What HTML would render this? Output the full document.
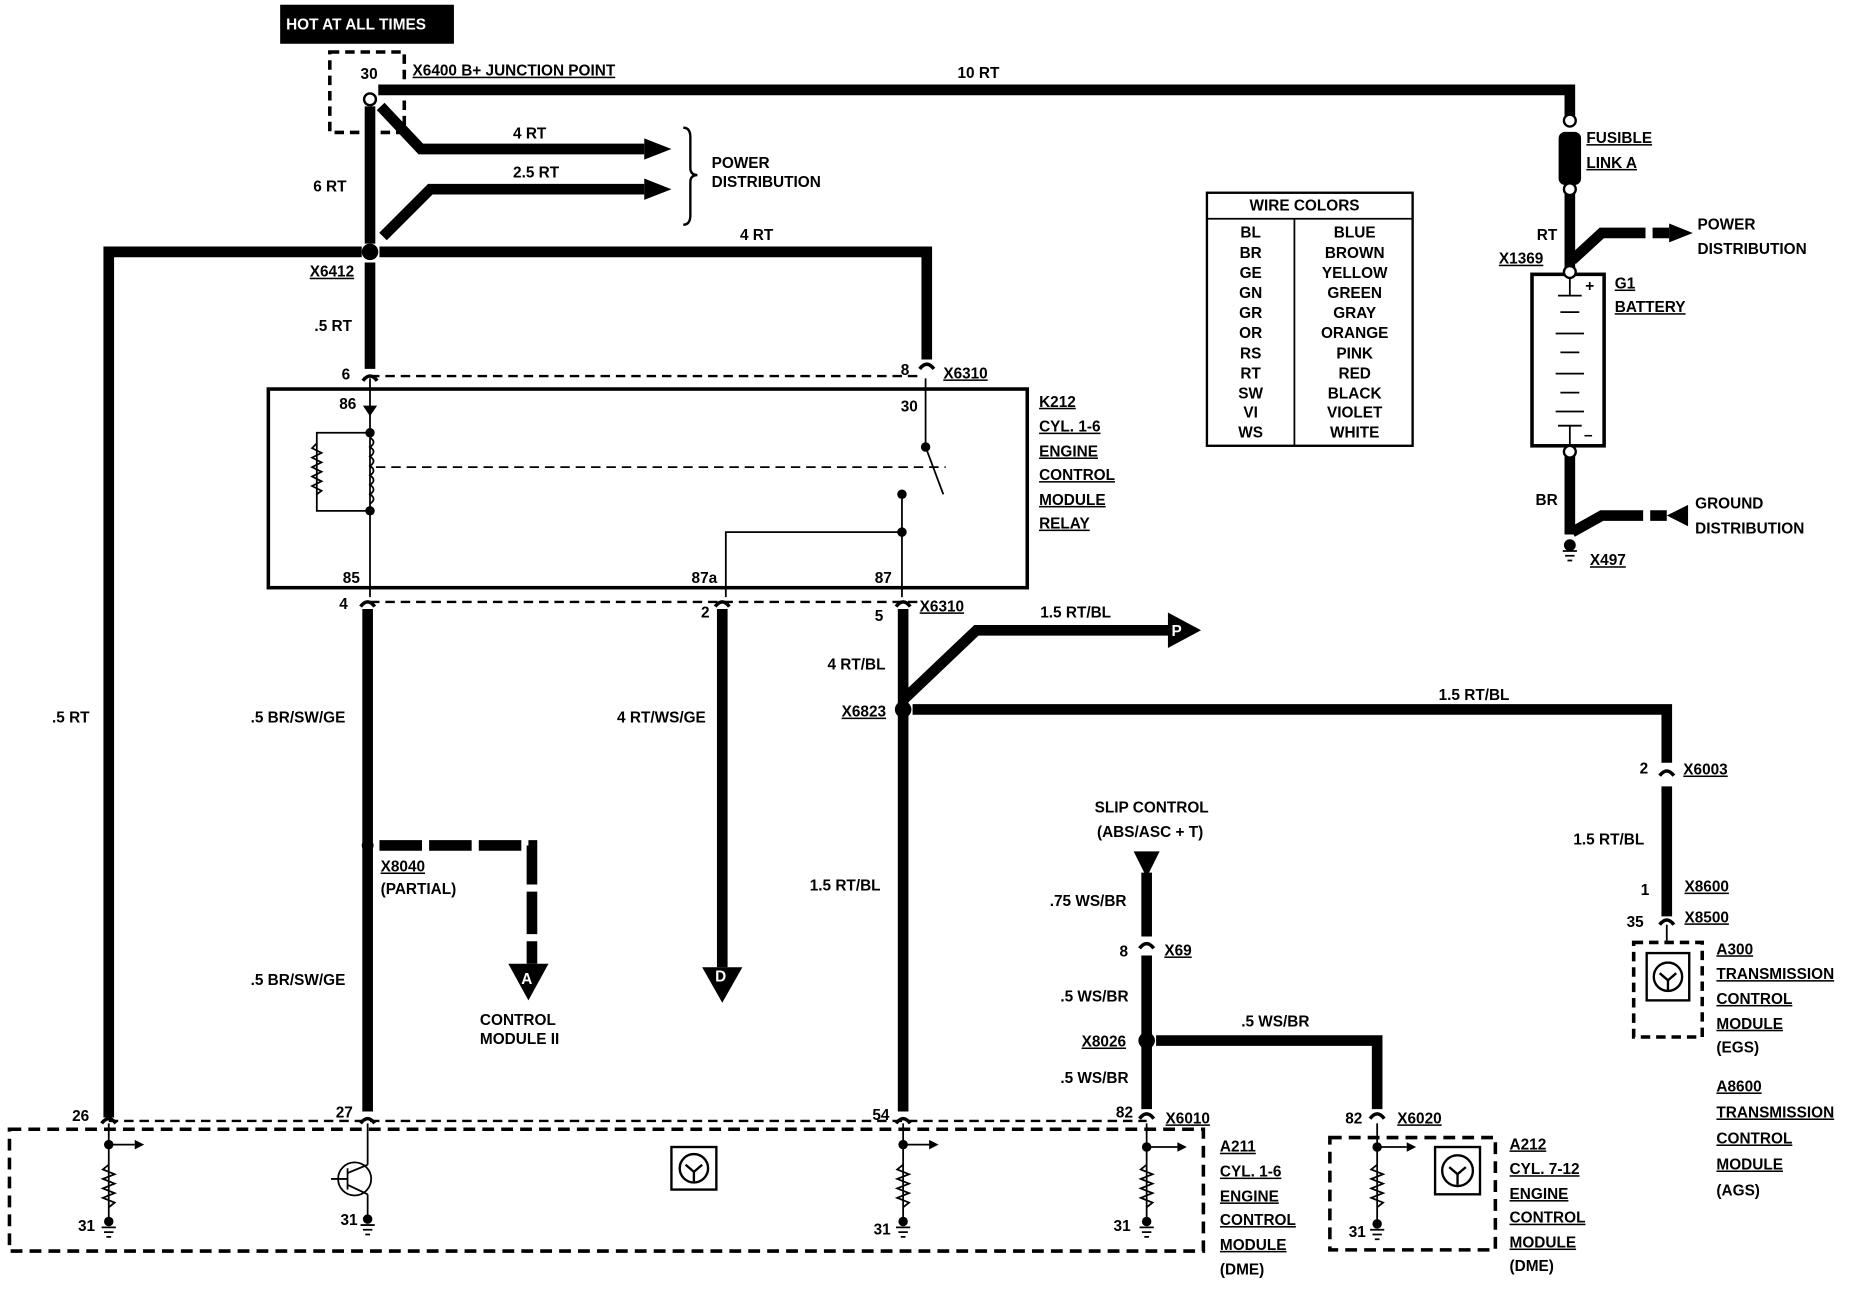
<!DOCTYPE html>
<html><head><meta charset="utf-8"><style>
html,body{margin:0;padding:0;background:#fff;}
svg{display:block;}
text{font-family:"Liberation Sans",sans-serif;font-weight:bold;font-size:13px;fill:#000;}
.u{text-decoration:underline;}
</style></head><body>
<svg width="1850" height="1296" viewBox="0 0 1565 1096" preserveAspectRatio="none" xmlns="http://www.w3.org/2000/svg">
<rect width="1565" height="1096" fill="#fff"/>
<g fill="none" stroke="#000" stroke-linejoin="miter">
<!-- heavy wires -->
<g stroke-width="9">
<polyline points="320,76 1328,76 1328,98"/>
<line x1="313" y1="90" x2="313" y2="206"/>
<polyline points="322,90 356,126 545,126"/>
<polyline points="324,200 364,160 545,160"/>
<polyline points="92,945 92,213 306,213"/>
<polyline points="321,213 784,213 784,304"/>
<line x1="313" y1="222" x2="313" y2="312"/>
<line x1="311" y1="515" x2="311" y2="940"/>
<line x1="611" y1="515" x2="611" y2="818"/>
<line x1="764" y1="515" x2="764" y2="940"/>
<polyline points="764,592 826,533 990,533"/>
<polyline points="772,600 1410,600 1410,645"/>
<line x1="1410" y1="665" x2="1410" y2="775"/>
<line x1="970" y1="738" x2="970" y2="792"/>
<line x1="970" y1="808" x2="970" y2="938"/>
<polyline points="978,880 1165,880 1165,938"/>
<line x1="1328" y1="162" x2="1328" y2="228"/>
<polyline points="1330,220 1355,197 1392,197"/>
<line x1="1328" y1="385" x2="1328" y2="452"/>
<polyline points="1330,450 1355,436 1390,436"/>
<polyline points="321,715 450,715 450,815" stroke-dasharray="36,6"/>
</g>
<line x1="1398" y1="197" x2="1412" y2="197" stroke-width="9"/>
<line x1="1396" y1="436" x2="1410" y2="436" stroke-width="9"/>
<!-- fuse -->
<rect x="1319" y="112" width="18" height="44" rx="5" fill="#000"/>
<!-- dashed boxes -->
<rect x="279" y="44" width="63" height="68" stroke-width="3" stroke-dasharray="8,5"/>
<rect x="8" y="955" width="1010" height="103" stroke-width="3" stroke-dasharray="10,6"/>
<rect x="1125" y="962" width="140" height="95" stroke-width="3" stroke-dasharray="10,6"/>
<rect x="1382" y="797" width="58" height="80" stroke-width="3" stroke-dasharray="8,5"/>
<!-- connector dashed lines -->
<line x1="313" y1="318" x2="780" y2="318" stroke-width="2" stroke-dasharray="8,5"/>
<line x1="313" y1="509" x2="780" y2="509" stroke-width="2" stroke-dasharray="8,5"/>
<line x1="92" y1="948" x2="970" y2="948" stroke-width="2" stroke-dasharray="8,5"/>
<!-- relay box -->
<rect x="227" y="329" width="642" height="168" stroke-width="3"/>
<line x1="313" y1="320" x2="313" y2="505" stroke-width="1.5"/>
<line x1="318" y1="395" x2="800" y2="395" stroke-width="1.5" stroke-dasharray="8,5"/>
<polyline points="313,366 268,366 268,432 313,432" stroke-width="1.5"/>
<path d="M268,375 l-4,4 8,4 -8,4 8,4 -8,4 8,4 -8,4 8,4 -8,4 8,4 -4,3" stroke-width="1.5"/>
<path d="M313,370 q6,4 0,8 q6,4 0,8 q6,4 0,8 q6,4 0,8 q6,4 0,8 q6,4 0,8 q6,4 0,8" stroke-width="1.5"/>
<line x1="783" y1="320" x2="783" y2="378" stroke-width="1.5"/>
<line x1="783" y1="378" x2="798" y2="418" stroke-width="1.5"/>
<line x1="763" y1="418" x2="763" y2="505" stroke-width="1.5"/>
<polyline points="763,450 614,450 614,505" stroke-width="1.5"/>
<!-- braces -->
<path d="M578,108 q6,0 6,8 l0,26 q0,6 6,6 q-6,0 -6,6 l0,28 q0,8 -6,8" stroke-width="2"/>
<!-- battery -->
<rect x="1296" y="232" width="61" height="145" stroke-width="3"/>
<g stroke-width="1.5">
<line x1="1328" y1="232" x2="1328" y2="250"/><line x1="1318" y1="250" x2="1338" y2="250"/>
<line x1="1320" y1="264" x2="1336" y2="264"/><line x1="1316" y1="282" x2="1340" y2="282"/>
<line x1="1320" y1="298" x2="1336" y2="298"/><line x1="1316" y1="316" x2="1340" y2="316"/>
<line x1="1320" y1="332" x2="1336" y2="332"/><line x1="1316" y1="348" x2="1340" y2="348"/>
<line x1="1318" y1="360" x2="1338" y2="360"/><line x1="1328" y1="360" x2="1328" y2="377"/>
</g>
<!-- table -->
<rect x="1021" y="163" width="174" height="214" stroke-width="2"/>
<line x1="1021" y1="185" x2="1195" y2="185" stroke-width="1.5"/>
<line x1="1095" y1="185" x2="1095" y2="377" stroke-width="1.5"/>
<!-- module internals -->
<g stroke-width="1.5">
<line x1="92" y1="950" x2="92" y2="1032"/><line x1="92" y1="968" x2="114" y2="968"/>
<path d="M92,985 l-5,4 10,4 -10,4 10,4 -10,4 10,4 -10,4 10,4 -5,4"/>
<line x1="311" y1="950" x2="311" y2="985"/><circle cx="300" cy="997" r="14"/>
<line x1="280" y1="997" x2="294" y2="997"/><line x1="294" y1="988" x2="294" y2="1006"/>
<line x1="294" y1="992" x2="311" y2="985"/><line x1="294" y1="1002" x2="311" y2="1010"/>
<line x1="311" y1="1010" x2="311" y2="1032"/>
<line x1="764" y1="950" x2="764" y2="1032"/><line x1="764" y1="968" x2="786" y2="968"/>
<path d="M764,985 l-5,4 10,4 -10,4 10,4 -10,4 10,4 -10,4 10,4 -5,4"/>
<line x1="970" y1="950" x2="970" y2="1032"/><line x1="970" y1="970" x2="996" y2="970"/>
<path d="M970,985 l-5,4 10,4 -10,4 10,4 -10,4 10,4 -10,4 10,4 -5,4"/>
<line x1="1165" y1="950" x2="1165" y2="1032"/><line x1="1165" y1="970" x2="1190" y2="970"/>
<path d="M1165,985 l-5,4 10,4 -10,4 10,4 -10,4 10,4 -10,4 10,4 -5,4"/>
</g>
<g stroke-width="2">
<rect x="568" y="970" width="38" height="36"/><circle cx="587" cy="988" r="12"/>
<rect x="1214" y="970" width="38" height="40"/><circle cx="1233" cy="990" r="13"/>
<rect x="1393" y="806" width="36" height="40"/><circle cx="1411" cy="826" r="12"/>
<path d="M580,985 l7,6 l7,-6 M587,991 v8 M1226,987 l7,6 l7,-6 M1233,993 v9 M1404,823 l7,6 l7,-6 M1411,829 v9"/>
</g>
<!-- pins -->
<g stroke-width="3">
<path d="M307,322 q6,-8 12,0"/><path d="M778,312 q6,-8 12,0"/>
<path d="M305,513 q6,-8 12,0"/><path d="M605,513 q6,-8 12,0"/><path d="M758,513 q6,-8 12,0"/>
<path d="M86,950 q6,-8 12,0"/><path d="M305,950 q6,-8 12,0"/><path d="M758,950 q6,-8 12,0"/><path d="M964,946 q6,-8 12,0"/><path d="M1159,946 q6,-8 12,0"/>
<path d="M964,802 q6,-8 12,0"/><path d="M1404,656 q6,-8 12,0"/><path d="M1404,782 q6,-8 12,0"/>
</g>
<g stroke-width="1.5"><line x1="1410" y1="782" x2="1410" y2="797"/></g>
</g>
<!-- filled things -->
<g fill="#000">
<rect x="237" y="4" width="147" height="33"/>
<circle cx="313" cy="213" r="7"/><circle cx="764" cy="600" r="7"/><circle cx="970" cy="880" r="7"/><circle cx="311" cy="715" r="5"/>
<polygon points="545,117 568,126 545,135"/><polygon points="545,151 568,160 545,169"/>
<polygon points="1412,189 1432,197 1412,205"/><polygon points="1428,427 1410,436 1428,445"/>
<polygon points="988,518 1016,533 988,548"/>
<polygon points="430,815 464,815 447,846"/><polygon points="594,818 628,818 611,848"/>
<polygon points="959,720 981,720 970,742"/>
<polygon points="307,343 319,343 313,352"/>
<circle cx="313" cy="366" r="4"/><circle cx="313" cy="432" r="4"/><circle cx="783" cy="378" r="4"/><circle cx="763" cy="418" r="4"/><circle cx="763" cy="450" r="4"/>
<circle cx="92" cy="968" r="4"/><circle cx="764" cy="968" r="4"/><circle cx="970" cy="970" r="4"/><circle cx="1165" cy="970" r="4"/>
<polygon points="114,964 122,968 114,972"/><polygon points="786,964 794,968 786,972"/><polygon points="996,966 1004,970 996,974"/><polygon points="1190,966 1198,970 1190,974"/>
</g>
<g fill="#fff" stroke="#000" stroke-width="2">
<circle cx="313" cy="84" r="5"/><circle cx="1328" cy="102" r="5"/><circle cx="1328" cy="160" r="5"/><circle cx="1328" cy="230" r="5"/><circle cx="1328" cy="382" r="5"/>
</g>
<!-- grounds -->
<g stroke="#000" stroke-width="1.5">
<path d="M86,1038 h12 M88,1042 h8 M90,1046 h4 M305,1036 h12 M307,1040 h8 M309,1044 h4 M758,1038 h12 M760,1042 h8 M762,1046 h4 M964,1038 h12 M966,1042 h8 M968,1046 h4 M1159,1040 h12 M1161,1044 h8 M1163,1048 h4 M1322,466 h12 M1324,470 h8 M1326,474 h4"/>
</g>
<g fill="#000"><circle cx="92" cy="1033" r="4"/><circle cx="311" cy="1031" r="4"/><circle cx="764" cy="1033" r="4"/><circle cx="970" cy="1033" r="4"/><circle cx="1165" cy="1035" r="4"/><circle cx="1328" cy="461" r="5"/></g>
<!-- text -->
<text x="242" y="25" fill="#fff" style="fill:#fff">HOT AT ALL TIMES</text>
<text x="305" y="67" font-size="12">30</text>
<text x="349" y="64" class="u">X6400 B+ JUNCTION POINT</text>
<text x="810" y="66">10 RT</text>
<text x="434" y="117">4 RT</text>
<text x="434" y="150">2.5 RT</text>
<text x="602" y="142">POWER</text><text x="602" y="158">DISTRIBUTION</text>
<text x="265" y="162">6 RT</text>
<text x="626" y="203">4 RT</text>
<text x="262" y="234" class="u">X6412</text>
<text x="266" y="280">.5 RT</text>
<text x="289" y="321">6</text><text x="762" y="317">8</text><text x="798" y="320" class="u">X6310</text>
<text x="287" y="346">86</text><text x="762" y="348">30</text>
<text x="290" y="493">85</text><text x="585" y="493">87a</text><text x="740" y="493">87</text>
<text x="287" y="515">4</text><text x="593" y="522">2</text><text x="740" y="525">5</text><text x="778" y="517" class="u">X6310</text>
<text x="879" y="344" class="u">K212</text><text x="879" y="365" class="u">CYL. 1-6</text><text x="879" y="386" class="u">ENGINE</text><text x="879" y="406" class="u">CONTROL</text><text x="879" y="427" class="u">MODULE</text><text x="879" y="447" class="u">RELAY</text>
<text x="1057" y="178">WIRE COLORS</text>
<g text-anchor="middle">
<text x="1058" y="201">BL</text><text x="1146" y="201">BLUE</text>
<text x="1058" y="218">BR</text><text x="1146" y="218">BROWN</text>
<text x="1058" y="235">GE</text><text x="1146" y="235">YELLOW</text>
<text x="1058" y="252">GN</text><text x="1146" y="252">GREEN</text>
<text x="1058" y="269">GR</text><text x="1146" y="269">GRAY</text>
<text x="1058" y="286">OR</text><text x="1146" y="286">ORANGE</text>
<text x="1058" y="303">RS</text><text x="1146" y="303">PINK</text>
<text x="1058" y="320">RT</text><text x="1146" y="320">RED</text>
<text x="1058" y="337">SW</text><text x="1146" y="337">BLACK</text>
<text x="1058" y="353">VI</text><text x="1146" y="353">VIOLET</text>
<text x="1058" y="370">WS</text><text x="1146" y="370">WHITE</text>
</g>
<text x="1342" y="121" class="u">FUSIBLE</text><text x="1342" y="142" class="u">LINK A</text>
<text x="1300" y="203">RT</text><text x="1268" y="223" class="u">X1369</text>
<text x="1436" y="194">POWER</text><text x="1436" y="215">DISTRIBUTION</text>
<text x="1366" y="244" class="u">G1</text><text x="1366" y="264" class="u">BATTERY</text>
<text x="1341" y="246" font-size="11">+</text><text x="1340" y="372" font-size="11">–</text>
<text x="1299" y="427">BR</text>
<text x="1434" y="430">GROUND</text><text x="1434" y="451">DISTRIBUTION</text>
<text x="1345" y="478" class="u">X497</text>
<text x="880" y="522">1.5 RT/BL</text>
<text x="700" y="566">4 RT/BL</text>
<text x="712" y="606" class="u">X6823</text>
<text x="1217" y="592">1.5 RT/BL</text>
<text x="44" y="611">.5 RT</text><text x="212" y="611">.5 BR/SW/GE</text><text x="522" y="611">4 RT/WS/GE</text>
<text x="1387" y="654">2</text><text x="1424" y="655" class="u">X6003</text>
<text x="926" y="687">SLIP CONTROL</text><text x="928" y="708">(ABS/ASC + T)</text>
<text x="1331" y="714">1.5 RT/BL</text>
<text x="322" y="737" class="u">X8040</text><text x="322" y="756">(PARTIAL)</text>
<text x="685" y="753">1.5 RT/BL</text>
<text x="1388" y="757">1</text><text x="1425" y="754" class="u">X8600</text>
<text x="888" y="766">.75 WS/BR</text>
<text x="1376" y="784">35</text><text x="1425" y="780" class="u">X8500</text>
<text x="947" y="809">8</text><text x="985" y="808" class="u">X69</text>
<text x="1452" y="807" class="u">A300</text><text x="1452" y="828" class="u">TRANSMISSION</text><text x="1452" y="849" class="u">CONTROL</text><text x="1452" y="870" class="u">MODULE</text><text x="1452" y="890">(EGS)</text>
<text x="212" y="833">.5 BR/SW/GE</text>
<text x="897" y="847">.5 WS/BR</text>
<text x="1050" y="868">.5 WS/BR</text>
<text x="406" y="867">CONTROL</text><text x="406" y="883">MODULE II</text>
<text x="915" y="885" class="u">X8026</text>
<text x="897" y="916">.5 WS/BR</text>
<text x="1452" y="923" class="u">A8600</text><text x="1452" y="945" class="u">TRANSMISSION</text><text x="1452" y="967" class="u">CONTROL</text><text x="1452" y="989" class="u">MODULE</text><text x="1452" y="1011">(AGS)</text>
<text x="61" y="948">26</text><text x="284" y="945">27</text><text x="738" y="947">54</text><text x="944" y="945">82</text><text x="986" y="950" class="u">X6010</text>
<text x="1138" y="950">82</text><text x="1182" y="950" class="u">X6020</text>
<text x="1032" y="974" class="u">A211</text><text x="1032" y="995" class="u">CYL. 1-6</text><text x="1032" y="1016" class="u">ENGINE</text><text x="1032" y="1036" class="u">CONTROL</text><text x="1032" y="1057" class="u">MODULE</text><text x="1032" y="1078">(DME)</text>
<text x="1277" y="972" class="u">A212</text><text x="1277" y="993" class="u">CYL. 7-12</text><text x="1277" y="1014" class="u">ENGINE</text><text x="1277" y="1034" class="u">CONTROL</text><text x="1277" y="1055" class="u">MODULE</text><text x="1277" y="1075">(DME)</text>
<text x="66" y="1041">31</text><text x="288" y="1036">31</text><text x="739" y="1044">31</text><text x="942" y="1041">31</text><text x="1141" y="1046">31</text>
<g fill="#fff" style="fill:#fff">
<text x="441" y="832" font-size="12" style="fill:#fff">A</text><text x="605" y="830" font-size="12" style="fill:#fff">D</text><text x="991" y="538" font-size="12" style="fill:#fff">P</text>
</g>
</svg>
</body></html>
